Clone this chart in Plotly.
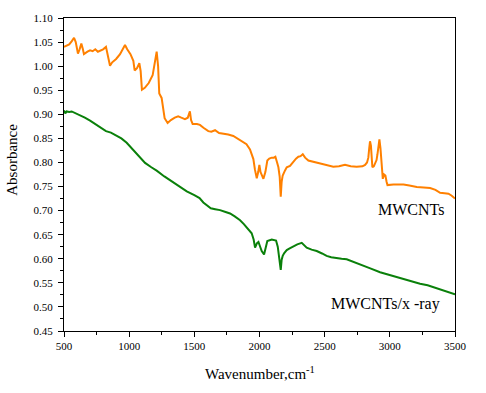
import plotly.graph_objects as go

# MWCNTs spectrum (orange)
mwcnt_x = [500, 520, 540, 560, 577, 590, 600, 607, 620, 633, 645, 653, 680, 700, 720, 740, 760, 780, 800, 822,
           835, 853, 870, 900, 930, 950, 968, 985, 1010, 1032, 1042, 1060, 1078, 1088, 1098, 1120, 1150, 1180, 1200, 1211,
           1222, 1231, 1249, 1260, 1272, 1295, 1320, 1350, 1376, 1400, 1428, 1450, 1466, 1475, 1487, 1520, 1543, 1570, 1607, 1630,
           1659, 1690, 1720, 1760, 1799, 1830, 1851, 1880, 1900, 1927, 1945, 1953, 1965, 1979, 1990, 1999, 2008, 2017, 2030, 2045,
           2060, 2075, 2094, 2110, 2122, 2135, 2145, 2155, 2163, 2170, 2178, 2195, 2209, 2234, 2260, 2280, 2298, 2315, 2332, 2350,
           2375, 2420, 2464, 2520, 2566, 2610, 2656, 2700, 2745, 2790, 2810, 2825, 2835, 2842, 2848, 2855, 2860, 2866, 2877, 2887,
           2898, 2905, 2912, 2920, 2928, 2935, 2946, 2956, 2966, 2975, 2982, 3028, 3105, 3150, 3207, 3260, 3309, 3350, 3386, 3420,
           3450, 3475, 3500]
mwcnt_y = [1.040, 1.042, 1.045, 1.052, 1.059, 1.050, 1.030, 1.026, 1.035, 1.047, 1.035, 1.025, 1.030, 1.033, 1.031, 1.035, 1.030, 1.032, 1.035, 1.040,
           1.025, 1.001, 1.008, 1.015, 1.025, 1.035, 1.044, 1.035, 1.025, 1.011, 0.991, 0.996, 1.006, 0.990, 0.951, 0.955, 0.965, 0.981, 1.010, 1.030,
           1.000, 0.943, 0.934, 0.910, 0.892, 0.882, 0.888, 0.893, 0.896, 0.893, 0.890, 0.893, 0.906, 0.888, 0.880, 0.880, 0.878, 0.872, 0.865, 0.864,
           0.867, 0.861, 0.860, 0.858, 0.855, 0.850, 0.846, 0.842, 0.838, 0.827, 0.815, 0.807, 0.785, 0.767, 0.780, 0.795, 0.780, 0.773, 0.766, 0.780,
           0.804, 0.808, 0.810, 0.810, 0.812, 0.800, 0.790, 0.770, 0.729, 0.760, 0.773, 0.783, 0.790, 0.793, 0.802, 0.808, 0.812, 0.813, 0.817, 0.810,
           0.804, 0.801, 0.799, 0.794, 0.791, 0.792, 0.795, 0.792, 0.791, 0.792, 0.795, 0.800, 0.810, 0.830, 0.844, 0.835, 0.800, 0.790, 0.792, 0.797,
           0.805, 0.817, 0.840, 0.848, 0.830, 0.800, 0.766, 0.775, 0.773, 0.760, 0.753, 0.754, 0.754, 0.752, 0.749, 0.748, 0.747, 0.743, 0.737, 0.736,
           0.735, 0.731, 0.725]

# MWCNTs/x-ray spectrum (green)
xray_x = [500, 510, 520, 540, 559, 590, 623, 660, 700, 740, 780, 822, 860, 891, 940, 981, 1030, 1070, 1100, 1122,
          1170, 1211, 1270, 1339, 1390, 1442, 1500, 1540, 1569, 1590, 1610, 1626, 1660, 1697, 1740, 1774, 1810, 1851, 1880, 1902,
          1925, 1940, 1955, 1966, 1980, 1992, 2005, 2017, 2035, 2048, 2060, 2094, 2127, 2140, 2145, 2155, 2163, 2170, 2178, 2190,
          2209, 2235, 2260, 2290, 2324, 2345, 2362, 2400, 2439, 2480, 2515, 2550, 2592, 2630, 2669, 2720, 2771, 2850, 2925, 3000,
          3078, 3150, 3232, 3290, 3334, 3390, 3436, 3470, 3500]
xray_y = [0.908, 0.902, 0.906, 0.905, 0.906, 0.902, 0.899, 0.893, 0.887, 0.880, 0.872, 0.865, 0.862, 0.858, 0.850, 0.841, 0.826, 0.814, 0.804, 0.799,
          0.790, 0.783, 0.771, 0.759, 0.750, 0.740, 0.732, 0.726, 0.717, 0.712, 0.708, 0.705, 0.703, 0.701, 0.697, 0.694, 0.688, 0.680, 0.672, 0.665,
          0.659, 0.653, 0.640, 0.623, 0.632, 0.635, 0.625, 0.616, 0.609, 0.625, 0.637, 0.640, 0.638, 0.625, 0.616, 0.600, 0.577, 0.598, 0.606, 0.612,
          0.618, 0.622, 0.626, 0.630, 0.633, 0.628, 0.623, 0.619, 0.616, 0.611, 0.606, 0.603, 0.601, 0.600, 0.599, 0.594, 0.588, 0.580, 0.572, 0.566,
          0.560, 0.554, 0.548, 0.545, 0.541, 0.537, 0.532, 0.529, 0.526]

labels = ["MWCNTs", "MWCNTs/x -ray"]
label_x = [3163, 2963]
label_y = [0.702, 0.506]

FONT = "Liberation Serif, Times New Roman, serif"

fig = go.Figure()
fig.add_trace(go.Scatter(x=mwcnt_x, y=mwcnt_y, mode="lines", line=dict(color="#ff8000", width=2), name=labels[0]))
fig.add_trace(go.Scatter(x=xray_x, y=xray_y, mode="lines", line=dict(color="#0a800a", width=2), name=labels[1]))

for t, lx, ly in zip(labels, label_x, label_y):
    fig.add_annotation(x=lx, y=ly, text=t, showarrow=False, xanchor="center", yanchor="middle",
                       font=dict(family=FONT, size=16, color="black"))

fig.add_annotation(xref="paper", yref="paper", x=-0.133, y=0.547, text="Absorbance", textangle=-90,
                   xanchor="center", yanchor="middle", showarrow=False,
                   font=dict(family=FONT, size=15, color="black"))
fig.add_annotation(xref="paper", yref="paper", x=0.501, y=-0.135, text="Wavenumber,cm<sup>-1</sup>",
                   xanchor="center", yanchor="middle", showarrow=False,
                   font=dict(family=FONT, size=15, color="black"))

axis_common = dict(showgrid=False, zeroline=False, showline=True, linecolor="black", linewidth=1.3,
                   mirror=True, ticks="outside", ticklen=5, tickwidth=1, tickcolor="black",
                   tickfont=dict(family=FONT, size=11, color="black"))
fig.update_xaxes(range=[500, 3500], dtick=500, tick0=500,
                 minor=dict(dtick=250, ticks="outside", ticklen=3, tickcolor="black"), **axis_common)
fig.update_yaxes(range=[0.45, 1.10], dtick=0.05, tick0=0.45, tickformat=".2f", ticklabelstandoff=3,
                 minor=dict(dtick=0.025, ticks="outside", ticklen=3, tickcolor="black"), **axis_common)

fig.update_layout(width=486, height=393, margin=dict(l=64, r=31, t=13, b=62),
                  plot_bgcolor="white", paper_bgcolor="white", showlegend=False)

fig.write_html("out.html", config={"displayModeBar": False},
               post_script="document.body.style.margin='0';document.body.style.overflow='hidden';")
